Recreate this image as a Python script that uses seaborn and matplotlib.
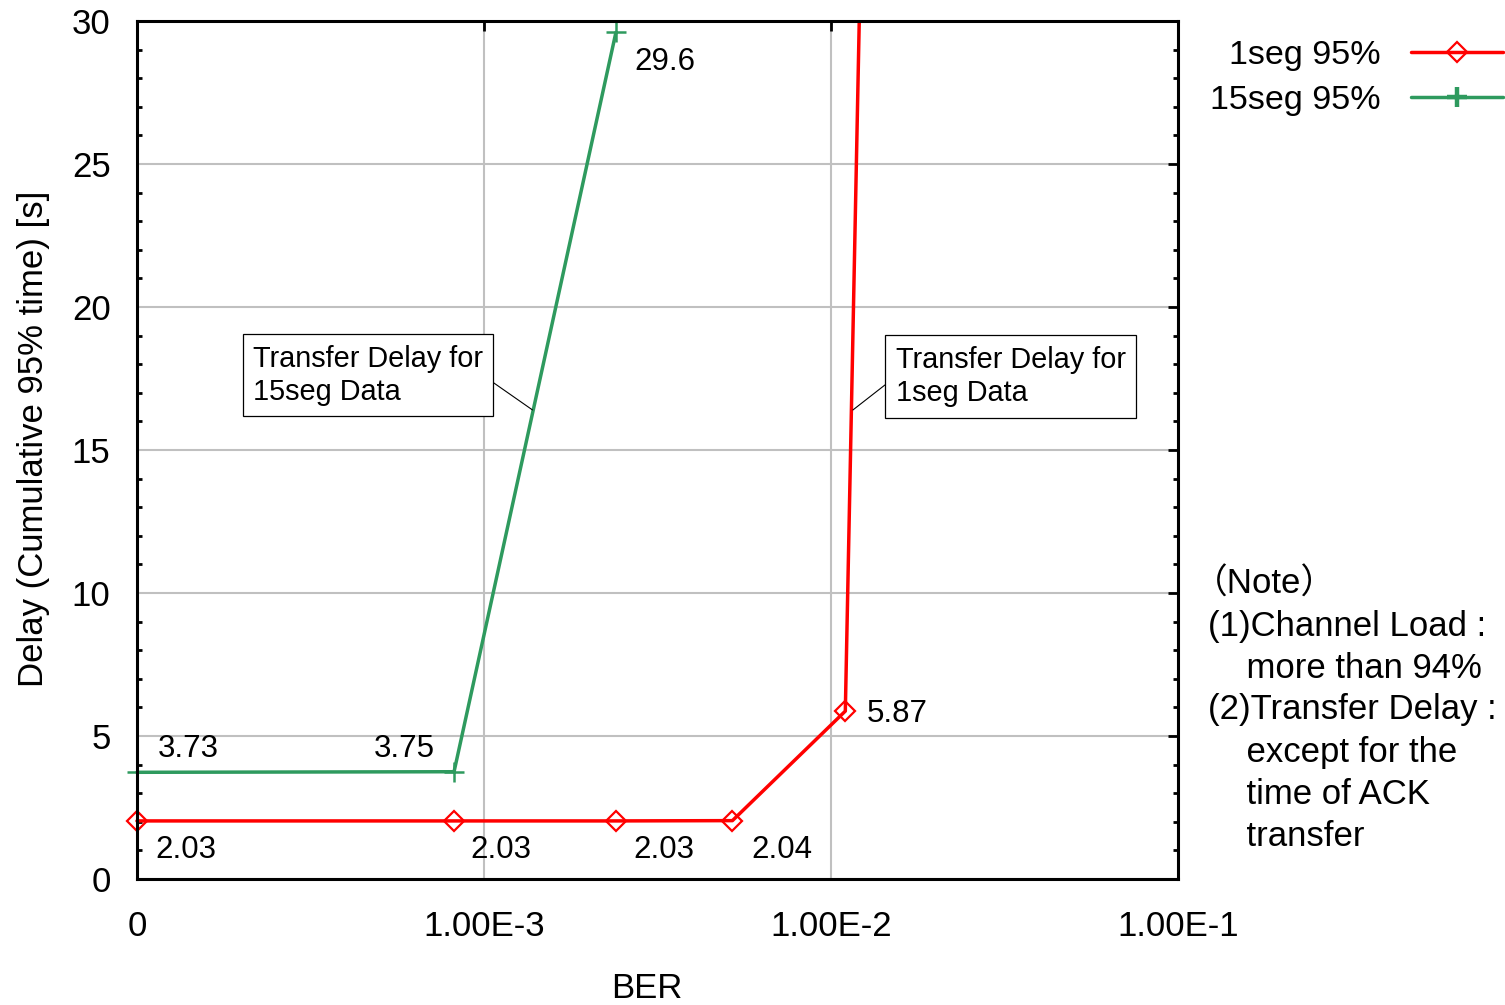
import numpy as np
import pandas as pd
import matplotlib
matplotlib.use("Agg")
import matplotlib.pyplot as plt
from matplotlib.transforms import Bbox, TransformedBbox
from matplotlib.ticker import FixedLocator, NullLocator, MultipleLocator
import seaborn as sns

# ---- data -------------------------------------------------------------
# BER = 0 is placed at the left end of the logarithmic axis
ber_1seg = [0, 8.2e-4, 2.4e-3, 5.2e-3, 1.1e-2, 1.3e-2]
delay_1seg = [2.03, 2.03, 2.03, 2.04, 5.87, 49.5]
ber_15seg = [0, 8.2e-4, 2.4e-3]
delay_15seg = [3.73, 3.75, 29.6]

series_names = ["1seg 95%", "15seg 95%"]
xtick_values = [1e-4, 1e-3, 1e-2, 1e-1]
xtick_labels = ["0", "1.00E-3", "1.00E-2", "1.00E-1"]
ZERO_POS = 1e-4

note_lines = ["（Note）", "(1)Channel Load :", "    more than 94%",
              "(2)Transfer Delay :", "    except for the", "    time of ACK",
              "    transfer"]

RED = "#ff0000"
GREEN = "#2e9a5e"

# ---- style ------------------------------------------------------------
sns.set_style("white")
plt.rcParams["font.family"] = ["Liberation Sans", "Noto Sans CJK JP", "DejaVu Sans"]
plt.rcParams["axes.linewidth"] = 2.2
for key in ("text.color", "axes.labelcolor", "xtick.color", "ytick.color"):
    plt.rcParams[key] = "black"


def plot_pos(values):
    return [v if v > 0 else ZERO_POS for v in values]


df1 = pd.DataFrame({"pos": plot_pos(ber_1seg), "delay": delay_1seg})
df15 = pd.DataFrame({"pos": plot_pos(ber_15seg), "delay": delay_15seg})

fig = plt.figure(figsize=(15.05, 10.05), dpi=100)
ax = fig.add_axes([0.0910, 0.1254, 0.6917, 0.8537])
ax.set_xscale("log")

sns.lineplot(data=df1, x="pos", y="delay", ax=ax, color=RED, lw=2.5,
             marker="D", markersize=10.5, markerfacecolor="none",
             markeredgecolor=RED, markeredgewidth=1.6,
             label=series_names[0], legend=False, sort=False)
sns.lineplot(data=df15, x="pos", y="delay", ax=ax, color=GREEN, lw=2.5,
             marker="+", markersize=15, markeredgecolor=GREEN,
             markeredgewidth=1.8, label=series_names[1], legend=False,
             sort=False)

# let markers at the axis edges stay whole, but clip the curve at the top
clip = TransformedBbox(Bbox([[-0.03, -0.03], [1.03, 1.0]]), ax.transAxes)
for ln in ax.lines:
    ln.set_clip_box(clip)

ax.set_xlim(1e-4, 1e-1)
ax.set_ylim(0, 30)
ax.xaxis.set_major_locator(FixedLocator(xtick_values))
ax.xaxis.set_minor_locator(NullLocator())
ax.set_xticks(xtick_values)
ax.set_xticklabels(xtick_labels)
ax.yaxis.set_major_locator(MultipleLocator(5))
ax.yaxis.set_minor_locator(MultipleLocator(1))

ax.tick_params(axis="both", which="major", direction="in", length=7,
               width=2, labelsize=25, top=True, right=True)
ax.tick_params(axis="x", which="major", pad=22)
ax.tick_params(axis="y", which="major", pad=19)
ax.tick_params(axis="y", which="minor", direction="in", length=3.5,
               width=2, left=True, right=True)
ax.grid(True, which="major", color="#c0c0c0", lw=1.5)
ax.set_axisbelow(True)
for s in ax.spines.values():
    s.set_color("black")
    s.set_linewidth(2.2)

ax.set_xlabel("BER", fontsize=25)
ax.set_ylabel("Delay (Cumulative 95% time) [s]", fontsize=25)
ax.xaxis.set_label_coords(0.49, -0.109)
ax.yaxis.set_label_coords(-0.084, 0.513)

# ---- value labels -----------------------------------------------------
offs_1seg = [(18, -29, "left"), (16, -29, "left"), (17, -29, "left"),
             (19, -29, "left"), (21, -3, "left")]
offs_15seg = [(21, 23, "left"), (-19, 23, "right"), (18, -30, "left")]

for x, y, (dx, dy, ha) in zip(plot_pos(ber_1seg), delay_1seg, offs_1seg):
    ax.annotate(f"{y:g}", xy=(x, y), xytext=(dx, dy),
                textcoords="offset pixels", ha=ha, va="center", fontsize=22.5)
for x, y, (dx, dy, ha) in zip(plot_pos(ber_15seg), delay_15seg, offs_15seg):
    ax.annotate(f"{y:g}", xy=(x, y), xytext=(dx, dy),
                textcoords="offset pixels", ha=ha, va="center", fontsize=22.5)

# ---- call-out boxes ---------------------------------------------------
box = dict(boxstyle="square,pad=0.36", fc="white", ec="black", lw=0.9)
ax.annotate("Transfer Delay for\n15seg Data", xy=(1.38e-3, 16.4),
            xytext=(0.1114, 0.587), textcoords="axes fraction",
            ha="left", va="center", fontsize=20.8, linespacing=1.25, bbox=box,
            arrowprops=dict(arrowstyle="-", color="black", lw=0.8,
                            relpos=(1, 0.5), shrinkA=0, shrinkB=0))
ax.annotate("Transfer Delay for\n1seg Data", xy=(1.157e-2, 16.4),
            xytext=(0.729, 0.5857), textcoords="axes fraction",
            ha="left", va="center", fontsize=20.8, linespacing=1.25, bbox=box,
            arrowprops=dict(arrowstyle="-", color="black", lw=0.8,
                            relpos=(0, 0.5), shrinkA=0, shrinkB=0))

# ---- legend -----------------------------------------------------------
handles, labels = ax.get_legend_handles_labels()
leg = fig.legend(handles, labels, loc="upper right",
                 bbox_to_anchor=(1503 / 1505, 1 - 40 / 1005), frameon=False,
                 markerfirst=False, fontsize=24.5, handlelength=2.7,
                 handletextpad=0.9, labelspacing=0.42, borderpad=0,
                 borderaxespad=0)
leg.legend_handles[1].set_markeredgewidth(3.2)

# ---- note -------------------------------------------------------------
W, H = 1505, 1005
for i, line in enumerate(note_lines):
    x0 = 1193 if i == 0 else 1208
    fig.text(x0 / W, 1 - (584 + 42 * i) / H, line, fontsize=25,
             ha="left", va="center")

fig.savefig("out.png", dpi=100)
